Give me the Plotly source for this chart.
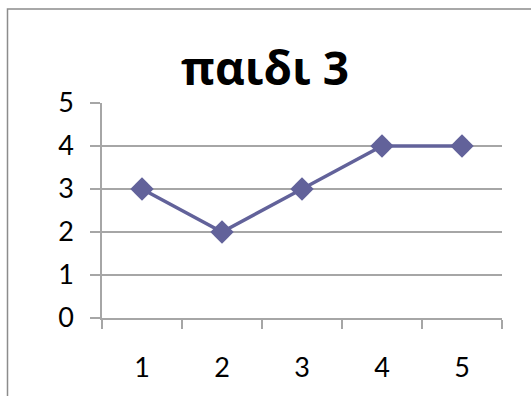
import plotly.graph_objects as go

categories = ["1", "2", "3", "4", "5"]
values = [3, 2, 3, 4, 4]
title_text = "παιδι 3"

W, H = 531, 396
ml, mr, mt, mb = 102, 29, 103, 78
pw, ph = W - ml - mr, H - mt - mb

line_color = "#62629A"
grid_color = "#A6A6A6"

fig = go.Figure()
fig.add_trace(go.Scatter(
    x=categories, y=values, mode="lines+markers",
    line=dict(color=line_color, width=3.5),
    marker=dict(symbol="diamond", size=18, color=line_color),
    showlegend=False,
))

def px_x(p):
    return (p - ml) / pw

def px_y(p):
    return 1 - (p - mt) / ph

fig.add_shape(type="rect", xref="paper", yref="paper",
              x0=px_x(7.5), x1=px_x(560), y0=px_y(9), y1=px_y(430),
              line=dict(color="#8C8C8C", width=1.5), layer="below")

fig.update_layout(
    width=W, height=H,
    margin=dict(l=ml, r=mr, t=mt, b=mb),
    paper_bgcolor="white", plot_bgcolor="white",
    font=dict(family="Lato, Open Sans, sans-serif", size=27, color="black"),
    title=dict(text="<b>" + title_text + "</b>", x=265 / W, xanchor="center",
               y=1 - 69 / H, yanchor="middle", yref="container",
               font=dict(family="Open Sans, Noto Sans, sans-serif", size=46, color="black")),
)
fig.update_xaxes(
    type="category", range=[-0.5, 4.5], tickson="boundaries",
    ticks="outside", ticklen=9, tickcolor=grid_color, tickwidth=1.5,
    showline=True, linecolor=grid_color, linewidth=1.5,
    showgrid=False, zeroline=False, ticklabelstandoff=25,
    tickfont=dict(size=27),
)
fig.update_yaxes(
    range=[0, 5], dtick=1, tick0=0,
    ticks="outside", ticklen=10, tickcolor=grid_color, tickwidth=1.5,
    showline=True, linecolor=grid_color, linewidth=1.5,
    showgrid=True, gridcolor=grid_color, gridwidth=1.5,
    zeroline=False, ticklabelstandoff=11,
    tickfont=dict(size=27),
)

fig.write_html("out.html")
